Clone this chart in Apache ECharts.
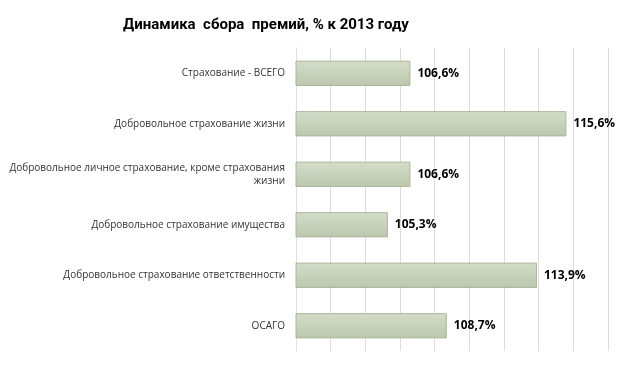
<!DOCTYPE html>
<html>
<head>
<meta charset="utf-8">
<script src="https://cdn.jsdelivr.net/npm/echarts@6/dist/echarts.min.js"></script>
<style>html,body{margin:0;padding:0;background:#fff}#c{width:623px;height:366px}</style>
</head>
<body>
<div id="c"></div>
<script>
var titleText = 'Динамика  сбора  премий, % к 2013 году';
var categories = [
  'Страхование - ВСЕГО',
  'Добровольное страхование жизни',
  'Добровольное личное страхование, кроме страхования\nжизни',
  'Добровольное страхование имущества',
  'Добровольное страхование ответственности',
  'ОСАГО'
];
var values = [106.6, 115.6, 106.6, 105.3, 113.9, 108.7];

var chart = echarts.init(document.getElementById('c'), null, {renderer: 'canvas'});
chart.setOption({
  animation: false,
  backgroundColor: '#fff',
  title: {
    text: titleText,
    left: 261, top: 13,
    textAlign: 'center',
    textStyle: {fontFamily: 'Roboto', fontWeight: 'bold', fontSize: 15, color: '#000'}
  },
  grid: {left: 296, right: 15, top: 48, bottom: 15, containLabel: false},
  xAxis: {
    type: 'value', min: 100, max: 118, interval: 2,
    axisLabel: {show: false}, axisTick: {show: false},
    axisLine: {show: false},
    splitLine: {show: true, lineStyle: {color: '#dcdcdc', width: 1}}
  },
  yAxis: {
    type: 'category', data: categories, inverse: true,
    axisTick: {show: false},
    axisLine: {show: true, lineStyle: {color: '#e0e0e0'}},
    axisLabel: {fontFamily: 'Open Sans', fontSize: 10, color: '#333', margin: 11, align: 'right', lineHeight: 13}
  },
  series: [{
    type: 'bar', data: values, barWidth: '50%',
    itemStyle: {
      color: new echarts.graphic.LinearGradient(0, 0, 0, 1, [
        {offset: 0, color: '#d5ddc9'}, {offset: 1, color: '#bcc7ae'}
      ]),
      borderColor: '#a9b69a', borderWidth: 1
    },
    label: {
      show: true, position: 'right', distance: 7,
      formatter: function (p) { return p.value.toFixed(1).replace('.', ',') + '%'; },
      fontFamily: 'Open Sans', fontWeight: 'bold', fontSize: 12, color: '#000'
    }
  }]
});
</script>
</body>
</html>
